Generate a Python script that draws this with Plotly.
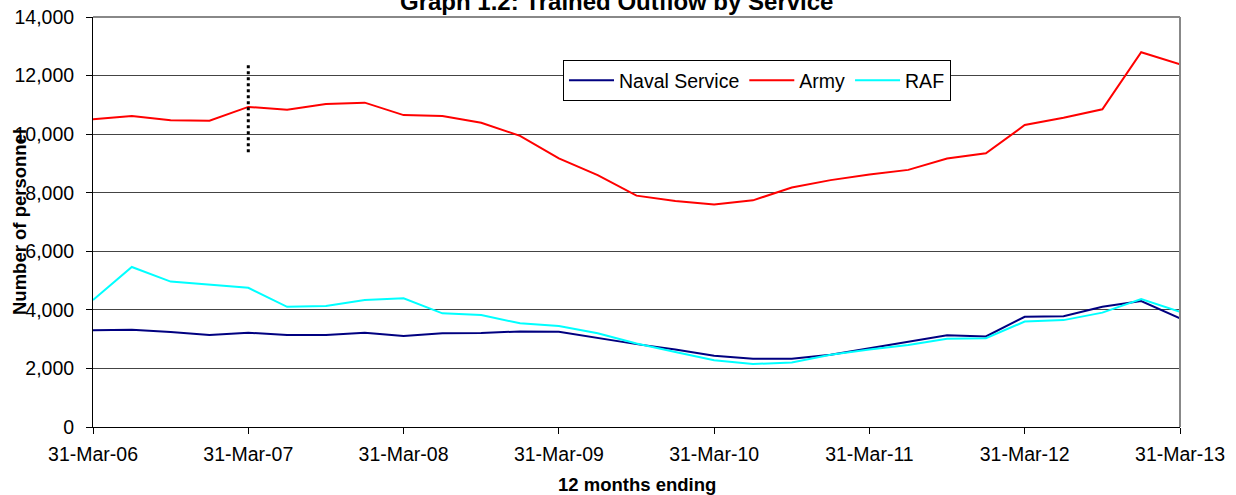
import plotly.graph_objects as go

quarters = [
    "31-Mar-06", "30-Jun-06", "30-Sep-06", "31-Dec-06",
    "31-Mar-07", "30-Jun-07", "30-Sep-07", "31-Dec-07",
    "31-Mar-08", "30-Jun-08", "30-Sep-08", "31-Dec-08",
    "31-Mar-09", "30-Jun-09", "30-Sep-09", "31-Dec-09",
    "31-Mar-10", "30-Jun-10", "30-Sep-10", "31-Dec-10",
    "31-Mar-11", "30-Jun-11", "30-Sep-11", "31-Dec-11",
    "31-Mar-12", "30-Jun-12", "30-Sep-12", "31-Dec-12",
    "31-Mar-13",
]

naval = [3300, 3320, 3240, 3140, 3220, 3140, 3140, 3220,
         3110, 3200, 3210, 3265, 3255, 3040, 2830, 2650,
         2430, 2330, 2330, 2470, 2690, 2920, 3130, 3090,
         3765, 3785, 4105, 4300, 3710]

army = [10510, 10620, 10475, 10460, 10930, 10835, 11030, 11075,
        10650, 10620, 10390, 9940, 9170, 8600, 7900, 7715,
        7600, 7740, 8180, 8430, 8620, 8780, 9170, 9345,
        10310, 10560, 10850, 12795, 12385]

raf = [4335, 5465, 4965, 4860, 4755, 4105, 4130, 4335,
       4395, 3880, 3825, 3540, 3450, 3200, 2850, 2560,
       2280, 2150, 2200, 2470, 2650, 2800, 3010, 3030,
       3600, 3650, 3905, 4370, 3935]

year_ticks = ["31-Mar-06", "31-Mar-07", "31-Mar-08", "31-Mar-09",
              "31-Mar-10", "31-Mar-11", "31-Mar-12", "31-Mar-13"]

marker_quarter = "31-Mar-07"
marker_range = [9380, 12420]

font_family = "Liberation Sans, Arial, sans-serif"

W, H = 1236, 495
ML, MT = 93, 17
PW, PH = 1087, 410
MR = W - ML - PW
MB = H - MT - PH

fig = go.Figure()
fig.add_trace(go.Scatter(x=quarters, y=naval, mode="lines", name="Naval Service",
                         line=dict(color="#000080", width=2)))
fig.add_trace(go.Scatter(x=quarters, y=army, mode="lines", name="Army",
                         line=dict(color="#FF0000", width=2)))
fig.add_trace(go.Scatter(x=quarters, y=raf, mode="lines", name="RAF",
                         line=dict(color="#00FFFF", width=2)))
fig.add_trace(go.Scatter(x=[marker_quarter, marker_quarter], y=marker_range,
                         mode="lines", showlegend=False, hoverinfo="skip",
                         line=dict(color="black", width=3, dash="dot")))

fig.update_layout(
    width=W, height=H,
    margin=dict(l=ML, r=MR, t=MT, b=MB, autoexpand=False),
    paper_bgcolor="white", plot_bgcolor="white",
    font=dict(family=font_family, size=19.5, color="black"),
    legend=dict(orientation="h", x=(563 - ML) / PW, y=(MT + PH - 60) / PH,
                xanchor="left", yanchor="top", itemwidth=45,
                bgcolor="white", bordercolor="black", borderwidth=1,
                font=dict(size=19.5)),
    showlegend=True,
    annotations=[
        dict(text="<b>Graph 1.2: Trained Outflow by Service</b>",
             xref="paper", yref="paper",
             x=(616 - ML) / PW, y=1 + (MT - 1.5) / PH,
             xanchor="center", yanchor="middle",
             showarrow=False, font=dict(size=24)),
        dict(text="<b>12 months ending</b>", xref="paper", yref="paper",
             x=0.5, y=(MT + PH - 485) / PH, xanchor="center", yanchor="middle",
             showarrow=False, font=dict(size=18.5)),
        dict(text="<b>Number of personnel</b>", xref="paper", yref="paper",
             x=(19 - ML) / PW, y=0.5, xanchor="center", yanchor="middle",
             textangle=-90, showarrow=False, font=dict(size=18.5)),
    ],
)

fig.update_xaxes(
    type="category", categoryorder="array", categoryarray=quarters,
    range=[0, len(quarters) - 1], automargin=False,
    tickmode="array", tickvals=year_ticks, ticktext=year_ticks,
    ticks="outside", ticklen=6, tickcolor="black", ticklabelstandoff=4,
    ticklabeloverflow="allow",
    showline=True, linecolor="black", linewidth=1,
    showgrid=False, zeroline=False,
    tickfont=dict(size=19.5),
)
fig.update_yaxes(
    range=[0, 14000], tickvals=list(range(0, 14001, 2000)), automargin=False,
    tickformat=",d",
    ticks="outside", ticklen=6, tickcolor="black", ticklabelstandoff=8,
    ticklabeloverflow="allow",
    showline=True, linecolor="black", linewidth=1,
    showgrid=True, gridcolor="#444444", gridwidth=1, zeroline=False,
    tickfont=dict(size=19.5),
)

# top and right gray frame
fig.add_shape(type="line", xref="paper", yref="paper", x0=0, x1=1, y0=1, y1=1,
              line=dict(color="#888888", width=2))
fig.add_shape(type="line", xref="paper", yref="paper", x0=1, x1=1, y0=0, y1=1,
              line=dict(color="#888888", width=2))

fig.write_html("out.html", config={"displayModeBar": False},
               post_script="document.body.style.margin='0';document.body.style.overflow='hidden';")
